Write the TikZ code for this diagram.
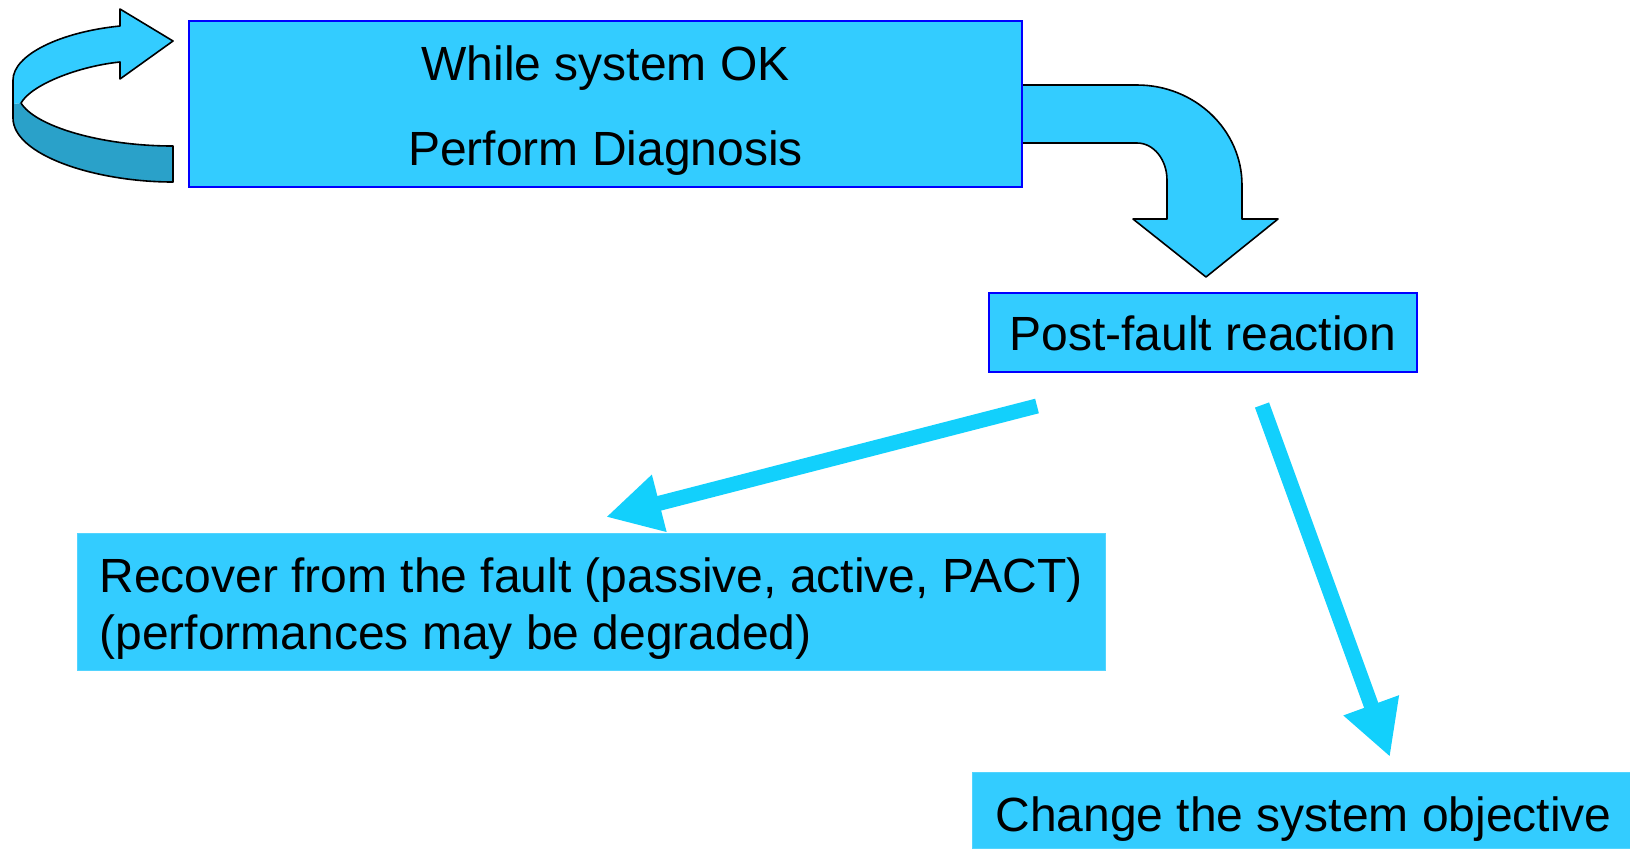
\documentclass[tikz,border=0pt]{standalone}
\usepackage{fontspec}
\setmainfont{Liberation Sans}
\usetikzlibrary{arrows.meta,calc}
\definecolor{boxfill}{RGB}{51,204,255}
\definecolor{ribbon}{RGB}{42,161,201}
\definecolor{pointer}{RGB}{18,208,252}
\definecolor{frame}{RGB}{0,0,255}
\begin{document}
\begin{tikzpicture}[x=0.5pt,y=-0.5pt,
  lbl/.style={font=\fontsize{24}{28.8}\selectfont, inner sep=0pt, anchor=base},
  framed/.style={draw=frame, line width=1pt, fill=boxfill, inner sep=0pt, outer sep=0pt},
  plain/.style={fill=boxfill, draw=boxfill!85!white, line width=0.5pt, inner sep=0pt, outer sep=0pt},
  outline/.style={draw=black, line width=0.8pt, line join=round},
  pointerline/.style={draw=pointer, line width=7.5pt, -{Triangle[length=27.5pt,width=27.5pt]}}
]
\useasboundingbox[fill=white] (0,0) rectangle (1630,848);

% looping ribbon arrow (repeat while system OK)
\fill[ribbon] (21,103) .. controls (35,126) and (100,146) .. (173,146)
  -- (173,182) .. controls (95,182) and (13,155) .. (13,118)
  -- (13,104) -- cycle;
\fill[boxfill] (120,26) .. controls (60,32) and (13,55) .. (13,80)
  -- (13,104) -- (21,103)
  .. controls (32,84) and (80,66) .. (120,62)
  -- (120,79) -- (173,41) -- (120,9) -- cycle;
\draw[outline] (120,26) .. controls (60,32) and (13,55) .. (13,80)
  -- (13,118) .. controls (13,155) and (95,182) .. (173,182)
  -- (173,146) .. controls (100,146) and (35,126) .. (21,103)
  .. controls (32,84) and (80,66) .. (120,62)
  -- (120,79) -- (173,41) -- (120,9) -- cycle;

% bent block arrow towards the post-fault reaction
\draw[outline, fill=boxfill] (1022,85) -- (1137,85)
  .. controls (1195,85) and (1242,130) .. (1242,185)
  -- (1242,219) -- (1278,219) -- (1206,277) -- (1133,219) -- (1167,219)
  -- (1167,180) .. controls (1167,160) and (1154,143) .. (1137,143)
  -- (1022,143) -- cycle;

% boxes
\node[framed, minimum width=416.5pt, minimum height=83pt] (diag) at (605.5,104) {};
\node[framed, minimum width=214pt, minimum height=39.5pt] (post) at (1203,332.5) {};
\node[plain, minimum width=514pt, minimum height=68.5pt] (rec) at (591,601.5) {};
\node[plain, minimum width=330pt, minimum height=38pt] (chg) at (1302,810) {};

% texts
\node[lbl] (t1) at (605.5,80) {While system OK};
\node[lbl] (t2) at (605.5,165) {Perform Diagnosis};
\node[lbl] (pf) at (1203,350) {Post-fault reaction};
\node[lbl, anchor=base west] (r1) at (99,592) {Recover from the fault (passive, active, PACT)};
\node[lbl, anchor=base west] (r2) at (99,649) {(performances may be degraded)};
\node[lbl, anchor=base west] (ch) at (995,831) {Change the system objective};

% reaction arrows
\coordinate (a1s) at ($(post.south west)+(48,34)$);
\coordinate (a1e) at ($(rec.north west)+(529,-16)$);
\coordinate (a2s) at ($(post.south west)+(273,33)$);
\coordinate (a2e) at ($(chg.north west)+(418,-15)$);
\draw[pointerline] (a1s) -- (a1e);
\draw[pointerline] (a2s) -- (a2e);
\end{tikzpicture}
\end{document}
